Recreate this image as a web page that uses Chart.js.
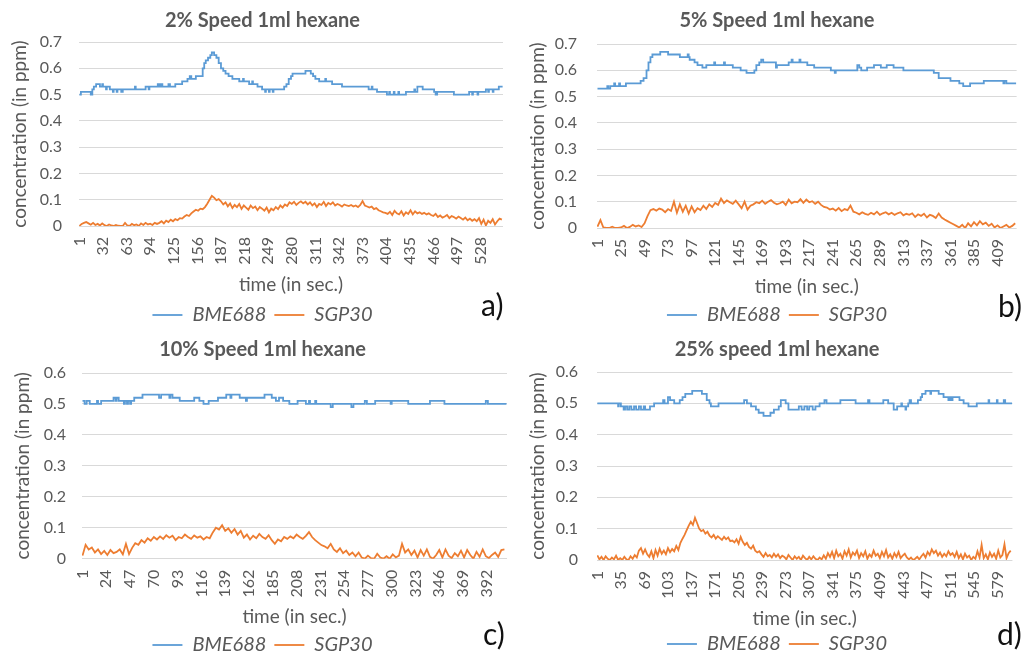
<!DOCTYPE html>
<html><head><meta charset="utf-8">
<script src="https://cdn.jsdelivr.net/npm/chart.js@4.4.1/dist/chart.umd.min.js"></script>
<style>
html,body{margin:0;padding:0;background:#fff;overflow:hidden;width:1028px;height:657px;position:relative;}
canvas{position:absolute;}
.tag{position:absolute;font-family:Lato,sans-serif;font-size:30px;line-height:30px;color:#111;}
</style></head><body>
<canvas id="ca" width="525" height="335" style="left:0;top:0"></canvas>
<canvas id="cb" width="502" height="335" style="left:526px;top:0"></canvas>
<canvas id="cc" width="525" height="335" style="left:0;top:330px"></canvas>
<canvas id="cd" width="502" height="334" style="left:526px;top:330px"></canvas>
<div class="tag" style="left:481px;top:289px">a)</div>
<div class="tag" style="left:998px;top:290px">b)</div>
<div class="tag" style="left:483px;top:618px">c)</div>
<div class="tag" style="left:997px;top:618px">d)</div>
<script>
// ---------- shared ----------
const seriesNames = ['BME688', 'SGP30'];
const xTitle = 'time (in sec.)';
const yTitle = 'concentration (in ppm)';
const sgpStep = 3;               // SGP30 values read every 3 s, starting at t = 1

// ---------- panel a ----------
const aTitle = '2% Speed 1ml hexane';
const aCount = 557;
const aXTicks = [1,32,63,94,125,156,187,218,249,280,311,342,373,404,435,466,497,528];
const aYTicks = [0,0.1,0.2,0.3,0.4,0.5,0.6,0.7];
const aYLabels = ['0','0.1','0.2','0.3','0.4','0.5','0.6','0.7'];
const aBmeT = [1,3,16,18,20,23,28,31,32,36,37,41,45,46,50,51,56,58,74,75,88,92,93,104,106,108,110,118,120,127,136,143,146,148,154,163,165,167,170,173,175,178,181,184,187,190,193,197,202,211,216,217,224,228,229,235,241,245,246,250,251,255,256,270,273,276,279,281,298,305,308,311,316,324,325,333,346,381,385,386,392,405,408,409,414,415,420,421,430,441,442,445,452,467,469,471,493,513,517,518,524,525,535,538,539,544,545,552,557];
const aBmeV = [.50,.51,.50,.52,.53,.54,.53,.54,.53,.52,.53,.52,.51,.52,.51,.52,.51,.52,.53,.52,.53,.52,.53,.54,.53,.54,.53,.54,.53,.54,.55,.56,.57,.56,.57,.60,.62,.63,.64,.65,.66,.65,.64,.62,.60,.59,.58,.57,.56,.55,.56,.55,.54,.55,.54,.53,.52,.51,.52,.51,.52,.51,.52,.53,.54,.56,.57,.58,.59,.58,.57,.56,.55,.56,.55,.54,.53,.52,.53,.52,.51,.50,.51,.50,.51,.50,.51,.50,.51,.52,.51,.53,.52,.51,.50,.51,.50,.51,.50,.51,.50,.51,.52,.51,.52,.51,.52,.53,.53];
const aSgpV = [0.000,0.008,0.012,0.015,0.010,
0.005,0.012,0.004,0.008,0.002,0.010,0.003,0.000,0.006,0.002,0.000,0.004,0.001,0.000,
0.000,0.012,0.002,0.000,0.008,0.003,0.006,0.000,0.010,0.004,0.012,0.006,0.009,0.004,0.012,0.008,
0.012,0.018,0.010,0.020,0.015,0.024,0.018,0.026,0.022,0.030,0.028,
0.036,0.042,0.038,0.048,
0.055,0.062,0.058,0.066,0.064,0.072,
0.085,0.100,0.115,
0.108,0.098,0.102,0.094,
0.082,0.090,0.075,0.086,0.068,0.080,0.072,0.084,0.065,0.078,0.070,0.062,0.078,0.068,0.074,0.060,0.072,0.066,
0.058,0.070,0.052,0.066,0.060,0.072,0.064,0.078,0.070,
0.082,0.076,0.090,0.084,0.092,0.080,0.088,0.094,0.086,0.092,0.082,
0.090,0.078,0.086,0.072,0.084,0.080,0.092,0.076,0.088,0.082,0.090,0.078,0.084,0.080,0.074,0.082,0.078,0.076,0.080,0.074,0.078,0.072,0.080,0.095,0.078,0.074,
0.070,0.074,0.064,0.068,0.060,0.056,0.052,0.050,
0.046,0.054,0.042,0.058,0.048,0.044,0.056,0.040,0.052,0.046,0.060,0.044,0.056,0.048,0.052,0.046,0.050,0.044,0.048,
0.042,0.038,0.046,0.034,0.040,0.032,0.036,0.042,0.030,0.038,0.034,0.028,0.036,
0.030,0.024,0.032,0.022,0.028,0.020,0.026,
0.018,0.030,0.008,0.024,0.002,0.020,0.012,0.026,0.006,0.018,0.028,0.024];

// ---------- panel b ----------
const bTitle = '5% Speed 1ml hexane';
const bCount = 428;
const bXTicks = [1,25,49,73,97,121,145,169,193,217,241,265,289,313,337,361,385,409];
const bYTicks = [0,0.1,0.2,0.3,0.4,0.5,0.6,0.7];
const bYLabels = ['0','0.1','0.2','0.3','0.4','0.5','0.6','0.7'];
const bBmeT = [1,11,12,14,18,19,23,24,30,45,48,51,53,55,57,65,73,85,93,94,95,100,103,108,112,120,121,130,131,139,147,153,161,163,166,168,170,183,184,196,199,200,207,208,215,222,239,243,244,266,268,270,276,283,290,296,303,313,344,349,361,370,374,381,395,415,416,418,428];
const bBmeV = [.53,.54,.53,.54,.55,.54,.55,.54,.55,.56,.57,.60,.63,.65,.66,.67,.66,.65,.66,.65,.64,.63,.62,.61,.62,.63,.62,.63,.62,.61,.60,.59,.60,.62,.63,.64,.63,.61,.62,.63,.64,.63,.64,.63,.62,.61,.60,.59,.60,.62,.61,.60,.61,.62,.61,.62,.61,.60,.59,.57,.56,.55,.54,.55,.56,.55,.56,.55,.55];
const bSgpV = [0.005,0.030,
0.002,0.000,0.000,0.005,0.000,0.000,0.002,0.008,0.000,0.004,0.012,0.006,0.010,0.004,
0.018,0.045,
0.068,0.072,0.066,0.074,0.070,0.060,0.072,0.065,
0.100,0.058,0.090,0.062,0.085,0.055,0.082,
0.060,0.075,0.068,0.085,0.072,0.090,0.080,0.095,0.088,
0.112,0.095,0.105,0.098,0.092,0.104,0.090,
0.075,0.100,0.070,0.085,
0.090,0.098,0.094,0.104,0.092,0.100,0.106,0.096,0.090,
0.094,0.100,0.088,0.108,0.094,0.100,0.098,0.110,0.096,
0.108,0.098,0.102,0.092,0.100,0.088,0.080,
0.078,0.070,0.074,0.066,0.076,0.064,0.072,0.068,0.085,0.062,
0.058,0.052,0.060,0.054,0.050,0.058,0.052,0.062,0.050,0.056,0.060,0.052,0.058,0.050,0.056,0.060,0.048,0.054,
0.050,0.056,0.042,0.052,0.046,0.054,0.040,0.050,0.046,0.038,0.055,
0.040,0.032,0.026,0.020,0.014,0.008,
0.002,0.012,0.000,0.018,0.006,0.022,0.010,0.026,0.014,0.020,0.008,0.016,0.002,0.010,0.000,0.006,0.012,0.002,0.008,0.018];

// ---------- panel c ----------
const cTitle = '10% Speed 1ml hexane';
const cCount = 411;
const cXTicks = [1,24,47,70,93,116,139,162,185,208,231,254,277,300,323,346,369,392];
const cYTicks = [0,0.1,0.2,0.3,0.4,0.5,0.6];
const cYLabels = ['0','0.1','0.2','0.3','0.4','0.5','0.6'];
const cBmeT = [1,3,5,8,15,16,19,31,33,34,36,41,42,44,45,47,48,51,59,75,77,85,86,88,95,109,114,118,123,132,140,144,145,153,159,160,177,184,188,191,195,201,209,217,220,221,226,227,241,243,261,263,274,276,284,299,300,316,337,351,391,393,411];
const cBmeV = [.51,.50,.51,.50,.51,.50,.51,.52,.51,.52,.51,.50,.51,.50,.51,.50,.51,.52,.53,.52,.53,.52,.53,.52,.51,.52,.51,.50,.51,.52,.53,.52,.53,.52,.51,.52,.53,.52,.51,.52,.51,.50,.51,.50,.51,.50,.51,.50,.49,.50,.49,.50,.51,.50,.51,.50,.51,.50,.51,.50,.51,.50,.50];
const cSgpV = [0.010,0.045,0.030,0.036,0.020,
0.030,0.015,0.025,0.012,0.028,0.018,0.022,0.030,0.014,0.048,
0.015,0.035,0.050,
0.045,0.060,0.052,0.066,0.058,
0.070,0.062,0.072,0.064,0.076,0.068,0.074,0.060,0.070,
0.066,0.078,0.070,0.064,0.075,0.068,0.072,0.062,0.070,0.066,
0.085,0.100,0.094,0.108,
0.090,0.098,0.084,0.096,0.078,0.090,
0.068,0.078,0.062,0.074,0.066,0.080,0.070,0.064,0.076,0.060,
0.048,0.062,0.056,0.070,0.064,
0.072,0.066,0.078,0.070,0.064,0.074,0.086,0.070,
0.060,0.052,0.044,0.040,0.034,0.048,
0.030,0.022,0.034,0.018,0.026,0.012,0.020,0.008,
0.020,0.004,0.000,0.010,0.002,0.000,0.016,0.004,0.000,0.008,0.000,0.014,0.004,0.010,
0.048,0.020,0.030,0.012,0.026,0.004,0.028,0.010,0.030,0.006,0.000,0.012,0.028,0.004,0.030,0.010,0.002,0.018,0.008,0.026,0.004,0.028,0.012,0.000,0.022,0.006,0.030,0.008,0.002,0.012,0.020,0.006,0.028,0.030];

// ---------- panel d ----------
const dTitle = '25% speed 1ml hexane';
const dCount = 600;
const dXTicks = [1,35,69,103,137,171,205,239,273,307,341,375,409,443,477,511,545,579];
const dYTicks = [0,0.1,0.2,0.3,0.4,0.5,0.6];
const dYLabels = ['0','0.1','0.2','0.3','0.4','0.5','0.6'];
const dBmeT = [1,31,32,35,39,41,44,47,50,54,57,61,64,68,70,77,83,96,98,103,106,112,120,124,128,138,152,159,163,165,176,213,217,223,230,234,241,251,256,263,266,273,277,292,296,300,304,307,312,316,322,329,332,352,374,392,394,414,421,429,434,440,441,446,447,450,452,454,464,468,470,475,482,483,494,501,508,510,512,514,524,530,537,549,566,567,578,579,588,590,600];
const dBmeV = [.50,.49,.50,.49,.48,.49,.48,.49,.48,.49,.48,.49,.48,.49,.48,.49,.50,.51,.50,.52,.51,.50,.51,.52,.53,.54,.53,.51,.50,.49,.50,.51,.50,.49,.48,.47,.46,.47,.48,.49,.51,.50,.48,.49,.48,.49,.48,.49,.48,.49,.50,.51,.50,.51,.50,.51,.50,.51,.50,.48,.49,.50,.49,.48,.49,.50,.51,.50,.51,.52,.53,.54,.53,.54,.53,.52,.51,.52,.51,.52,.51,.50,.49,.50,.51,.50,.51,.50,.51,.50,.50];
const dSgpV = [0.015,0.002,0.010,0.000,0.012,0.004,0.000,0.008,0.002,0.014,0.000,0.006,0.000,0.010,0.002,0.000,0.012,0.004,0.016,0.008,
0.030,0.038,0.020,0.034,0.018,
0.010,0.028,0.006,0.032,0.014,0.036,0.020,
0.030,0.018,0.038,0.025,0.035,0.028,0.045,0.032,
0.055,0.068,0.080,0.095,0.110,
0.122,0.112,0.135,0.118,
0.100,0.092,0.096,0.084,0.090,
0.078,0.072,0.080,0.068,0.076,0.070,0.064,0.074,0.066,0.072,0.060,
0.062,0.056,0.066,0.052,0.074,0.058,0.048,0.055,
0.042,0.036,0.046,0.030,0.024,0.028,
0.018,0.010,0.022,0.012,0.016,0.008,0.020,0.010,
0.018,0.006,0.014,0.010,0.002,0.016,0.008,0.000,0.012,0.004,0.010,0.000,0.014,0.006,0.000,0.010,0.002,0.012,0.004,0.000,0.008,0.002,
0.015,0.004,0.022,0.010,0.026,0.006,0.030,0.012,0.020,0.004,0.028,0.014,0.034,0.008,0.024,0.016,0.030,0.006,0.022,0.012,0.028,0.004,0.018,0.010,0.030,0.014,0.020,0.006,0.026,0.012,0.032,0.008,0.018,0.004,0.022,0.010,0.026,0.006,0.014,0.020,0.008,
0.002,0.008,0.000,0.004,0.010,0.002,
0.012,0.020,0.008,0.026,0.016,0.034,0.022,0.030,0.014,0.024,0.010,0.020,0.012,0.028,0.016,0.022,
0.010,0.026,0.006,0.018,0.002,0.020,0.008,0.014,0.000,0.010,0.004,0.028,0.008,0.048,0.006,0.018,0.002,0.024,0.010,0.020,0.004,0.030,0.008,0.016,0.050,0.006,0.022,0.030];

// ---------- drawing ----------
const BLUE = '#5B9BD5', ORANGE = '#ED7D31', GRID = '#D9D9D9', TXT = '#595959';
Chart.defaults.font.family = "Lato, 'DejaVu Sans', sans-serif";
Chart.defaults.color = TXT;

function makeChart(id, d, L) {
  const bme = d.bmeT.map((t, i) => ({x: t, y: d.bmeV[i]}));
  const sgp = d.sgpV.map((v, i) => ({x: 1 + i * sgpStep, y: v}));
  return new Chart(document.getElementById(id), {
    type: 'line',
    data: {datasets: [
      {label: seriesNames[0], data: bme, borderColor: BLUE, backgroundColor: BLUE, borderWidth: 1.8,
       pointRadius: 0, stepped: 'before', xAxisID: 'x', yAxisID: 'y'},
      {label: seriesNames[1], data: sgp, borderColor: ORANGE, backgroundColor: ORANGE, borderWidth: 1.8,
       pointRadius: 0, tension: 0, xAxisID: 'x', yAxisID: 'y'}
    ]},
    options: {
      responsive: false, animation: false, events: [],
      layout: {padding: 0},
      plugins: {
        title: {display: true, text: d.title, color: TXT, font: {size: 20, weight: 'bold'},
                padding: {top: L.tTop, bottom: L.tBot}},
        legend: {position: 'bottom',
                 labels: {usePointStyle: true, pointStyle: 'line', pointStyleWidth: 30, boxWidth: 30,
                          color: TXT, font: {size: 20, style: 'italic'}, padding: 8}},
        tooltip: {enabled: false}
      },
      scales: {
        x: {type: 'linear', bounds: 'data', min: 0.5, max: d.count + 0.5,
            grid: {display: false, drawTicks: false}, border: {display: false},
            afterBuildTicks: s => { s.ticks = d.xTicks.map(v => ({value: v})); },
            ticks: {autoSkip: false, minRotation: 90, maxRotation: 90, padding: 11, color: TXT,
                    font: {size: 16}, callback: v => String(v)},
            title: {display: true, text: xTitle, color: TXT, font: {size: 19},
                    padding: {top: 0, bottom: L.xtPad}},
            afterFit: s => { s.height = L.xH; }},
        y: {type: 'linear', bounds: 'data', min: 0, max: d.yTicks[d.yTicks.length - 1],
            grid: {color: GRID, lineWidth: 1, drawTicks: false}, border: {display: false},
            afterBuildTicks: s => { s.ticks = d.yTicks.map(v => ({value: v})); },
            ticks: {padding: L.yPad, color: TXT, font: {size: 16}, callback: (v, i) => d.yLabels[i]},
            title: {display: true, text: yTitle, color: TXT, font: {size: 19},
                    padding: {top: L.ytPad, bottom: 0}},
            afterFit: s => { s.width = L.yW; }},
        yR: {type: 'linear', axis: 'y', position: 'right', display: true,
             grid: {display: false, drawTicks: false}, border: {display: false}, ticks: {display: false},
             afterFit: s => { s.width = L.rW; }}
      }
    }
  });
}

const charts = [
  makeChart('ca', {title: aTitle, count: aCount, xTicks: aXTicks, yTicks: aYTicks, yLabels: aYLabels,
                   bmeT: aBmeT, bmeV: aBmeV, sgpV: aSgpV},
            {tTop: 9, tBot: 9, xH: 71, xtPad: 0.6, yW: 79, yPad: 17, ytPad: 8.6, rW: 22}),
  makeChart('cb', {title: bTitle, count: bCount, xTicks: bXTicks, yTicks: bYTicks, yLabels: bYLabels,
                   bmeT: bBmeT, bmeV: bBmeV, sgpV: bSgpV},
            {tTop: 9, tBot: 11, xH: 69, xtPad: -1.4, yW: 71, yPad: 20, ytPad: 0.6, rW: 6}),
  makeChart('cc', {title: cTitle, count: cCount, xTicks: cXTicks, yTicks: cYTicks, yLabels: cYLabels,
                   bmeT: cBmeT, bmeV: cBmeV, sgpV: cSgpV},
            {tTop: 8, tBot: 11, xH: 68.3, xtPad: -1.4, yW: 82, yPad: 16, ytPad: 11.1, rW: 18}),
  makeChart('cd', {title: dTitle, count: dCount, xTicks: dXTicks, yTicks: dYTicks, yLabels: dYLabels,
                   bmeT: dBmeT, bmeV: dBmeV, sgpV: dSgpV},
            {tTop: 8, tBot: 10, xH: 66, xtPad: -4.4, yW: 71, yPad: 19, ytPad: 0, rW: 7})
];
if (document.fonts && document.fonts.ready) {
  document.fonts.ready.then(() => charts.forEach(c => c.update('none')));
}
</script>
</body></html>
